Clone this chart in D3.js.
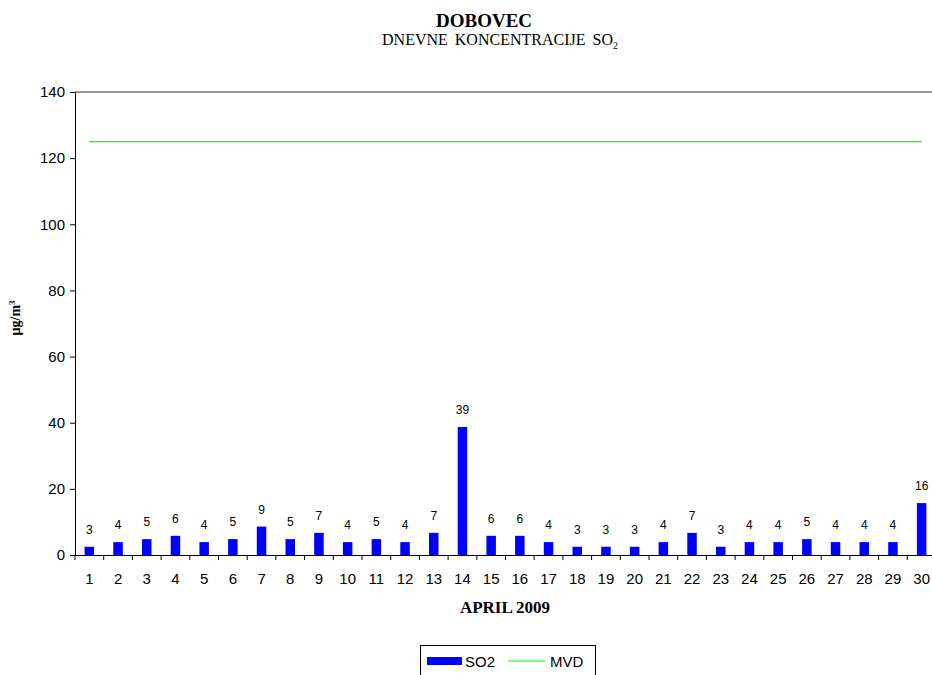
<!DOCTYPE html>
<html><head><meta charset="utf-8">
<script src="https://cdn.jsdelivr.net/npm/d3@7"></script>
<style>body{margin:0;background:#fff}svg{display:block}</style>
</head><body>
<script>
const days = d3.range(1, 31).map(String);
const so2 = [2.5,3.9,4.8,5.8,3.9,4.8,8.6,4.8,6.7,3.9,4.8,3.9,6.7,38.7,5.8,5.8,3.9,2.5,2.5,2.5,3.9,6.7,2.5,3.9,3.9,4.8,3.9,3.9,3.9,15.7];
const mvd = 125;
const yTicks = [0,20,40,60,80,100,120,140];

const W = 932, H = 675;
const svg = d3.select("body").append("svg").attr("width", W).attr("height", H);
const pL = 75, pR = 936, pT = 92, pB = 555;

const x = d3.scaleBand().domain(days).range([pL, pR]);
const y = d3.scaleLinear().domain([0, 140]).range([pB, pT]);

// plot border top (gray)
svg.append("line").attr("x1", pL).attr("x2", pR).attr("y1", pT).attr("y2", pT)
  .attr("stroke", "#999").attr("stroke-width", 2);

// bars
const bw = 9.5;
svg.append("g").selectAll("rect").data(so2).join("rect")
  .attr("x", (d, i) => x(days[i]) + x.bandwidth() / 2 - bw / 2)
  .attr("width", bw)
  .attr("y", d => y(d))
  .attr("height", d => y(0) - y(d))
  .attr("fill", "#0000ff");

// labels
svg.append("g").selectAll("text").data(so2).join("text")
  .attr("x", (d, i) => x(days[i]) + x.bandwidth() / 2)
  .attr("y", d => y(d) - 13)
  .attr("text-anchor", "middle")
  .attr("font-family", "Liberation Sans, Arial, sans-serif")
  .attr("font-size", 12)
  .attr("fill", "#000")
  .text(d => Math.round(d));

// MVD line
const line = d3.line().x(d => x(d) + x.bandwidth() / 2).y(() => y(mvd));
svg.append("path").datum(days).attr("d", line)
  .attr("stroke", "#00ff00").attr("stroke-width", 1.2).attr("fill", "none");

// y axis
const yAxis = svg.append("g").attr("transform", `translate(${pL},0)`)
  .call(d3.axisLeft(y).tickValues(yTicks).tickSize(5).tickPadding(5));
yAxis.select(".domain").attr("stroke", "#000");
yAxis.selectAll("text").attr("font-family", "Liberation Sans, Arial, sans-serif").attr("font-size", 15).attr("fill", "#000");

// x axis
const xAxis = svg.append("g").attr("transform", `translate(0,${pB})`)
  .call(d3.axisBottom(x).tickSize(0).tickPadding(18));
xAxis.select(".domain").attr("stroke", "#000");
xAxis.selectAll("text").attr("font-family", "Liberation Sans, Arial, sans-serif").attr("font-size", 15).attr("fill", "#000");
// ticks between categories
svg.append("g").selectAll("line").data(days).join("line")
  .attr("x1", d => x(d)).attr("x2", d => x(d))
  .attr("y1", pB).attr("y2", pB + 5)
  .attr("stroke", "#000");

// titles
const serif = "Liberation Serif, Times New Roman, serif";
svg.append("text").attr("x", 484).attr("y", 27).attr("text-anchor", "middle")
  .attr("font-family", serif).attr("font-weight", "bold").attr("font-size", 19).text("DOBOVEC");
const sub = svg.append("text").attr("x", 500).attr("y", 45).attr("text-anchor", "middle")
  .attr("font-family", serif).attr("font-size", 16).attr("word-spacing", 3);
sub.append("tspan").text("DNEVNE KONCENTRACIJE SO");
sub.append("tspan").attr("font-size", 10).attr("dy", 4).text("2");

svg.append("text").attr("x", 505).attr("y", 613).attr("text-anchor", "middle")
  .attr("font-family", serif).attr("font-weight", "bold").attr("font-size", 17).text("APRIL 2009");

const yl = svg.append("text").attr("transform", "translate(20,318) rotate(-90)").attr("text-anchor", "middle")
  .attr("font-family", serif).attr("font-weight", "bold").attr("font-size", 14);
yl.append("tspan").text("µg/m");
yl.append("tspan").attr("font-size", 9).attr("dy", -5).text("3");

// legend
const lg = svg.append("g");
lg.append("rect").attr("x", 420.5).attr("y", 645.5).attr("width", 175).attr("height", 40)
  .attr("fill", "#fff").attr("stroke", "#000");
lg.append("rect").attr("x", 427).attr("y", 657).attr("width", 35).attr("height", 8).attr("fill", "#0000ff");
lg.append("text").attr("x", 465).attr("y", 667).attr("font-family", "Liberation Sans, Arial, sans-serif").attr("font-size", 15).text("SO2");
lg.append("line").attr("x1", 508).attr("x2", 545).attr("y1", 661).attr("y2", 661).attr("stroke", "#00ff00").attr("stroke-width", 1.2);
lg.append("text").attr("x", 550).attr("y", 667).attr("font-family", "Liberation Sans, Arial, sans-serif").attr("font-size", 15).text("MVD");
</script>
</body></html>
